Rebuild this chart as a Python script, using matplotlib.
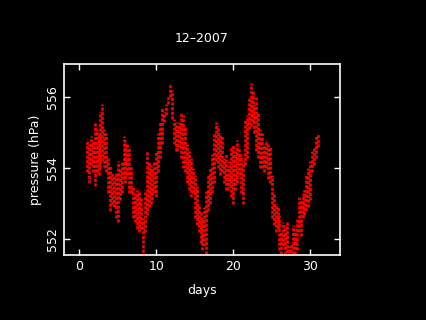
import numpy as np
import matplotlib
matplotlib.use('Agg')
import matplotlib.pyplot as plt

# time (day of month) and the pressure spread seen in each quarter day
days = np.arange(1.0, 31.01, 0.25)
p_hi = [554.8, 554.7, 554.9, 554.8, 555.3, 555.1, 555.0, 555.6, 555.8, 555.1,
        555.0, 554.3, 554.1, 553.9, 553.8, 553.9, 554.2, 554.0, 554.2, 554.9,
        554.8, 554.7, 554.6, 554.1, 553.5, 553.3, 553.4, 553.4, 553.2, 552.6,
        553.4, 554.5, 554.2, 554.1, 554.0, 554.2, 554.5, 555.0, 555.3, 555.7,
        555.6, 555.8, 556.0, 556.4, 556.2, 555.4, 555.3, 555.2, 555.3, 555.6,
        555.5, 555.2, 554.7, 554.5, 554.3, 554.0, 553.8, 553.5, 553.0, 552.8,
        552.6, 552.9, 553.4, 553.8, 554.0, 554.4, 555.0, 555.3, 555.2, 555.0,
        554.9, 554.3, 554.4, 554.0, 554.2, 554.6, 554.7, 554.5, 554.8, 554.6,
        554.4, 554.2, 555.4, 555.5, 556.0, 556.4, 556.2, 555.8, 556.0, 555.6,
        555.1, 555.0, 554.7, 554.8, 554.7, 554.6, 553.8, 553.3, 553.0, 552.9,
        552.7, 552.2, 552.5, 552.4, 552.5, 551.8, 551.9, 552.4, 552.3, 552.6,
        553.2, 553.1, 553.3, 553.4, 553.8, 554.0, 554.2, 554.5, 554.6, 554.9,
        555.0]
p_lo = [553.9, 553.6, 554.1, 553.9, 553.5, 553.9, 553.8, 554.0, 554.2, 554.0,
        553.9, 553.3, 552.8, 553.0, 552.9, 552.6, 552.5, 553.1, 553.3, 553.7,
        553.6, 553.8, 553.3, 553.3, 552.6, 552.5, 552.3, 552.2, 552.3, 551.5,
        552.2, 552.7, 552.9, 553.0, 553.1, 553.3, 553.2, 553.9, 554.3, 554.7,
        555.3, 555.5, 555.8, 556.0, 555.4, 554.7, 554.5, 554.5, 554.6, 554.3,
        554.0, 553.9, 553.6, 553.4, 553.2, 553.3, 552.6, 552.4, 552.2, 551.9,
        551.7, 551.8, 551.6, 552.8, 553.0, 553.3, 553.6, 554.2, 554.0, 553.8,
        553.9, 553.6, 553.4, 553.4, 553.5, 553.2, 553.0, 553.4, 553.6, 553.8,
        553.3, 553.0, 554.1, 554.3, 555.1, 555.2, 555.3, 555.0, 554.5, 554.3,
        554.0, 554.0, 553.9, 554.0, 553.7, 553.6, 552.6, 552.4, 552.2, 552.3,
        551.7, 551.6, 551.8, 551.6, 551.5, 551.5, 551.5, 551.6, 551.6, 551.7,
        552.2, 552.1, 552.6, 552.7, 552.8, 552.9, 553.1, 553.9, 554.1, 554.3,
        554.6]

plt.rcParams['font.family'] = 'DejaVu Sans'
fig = plt.figure(figsize=(4.26, 3.2), dpi=100, facecolor='black')
ax = fig.add_axes([0.1502, 0.2031, 0.6479, 0.5969], facecolor='black')

ax.vlines(days, p_lo, p_hi, colors='red', linewidth=1.9, linestyles=(0, (1.2, 0.55)))

ax.set_xlim(-1.99, 33.86)
ax.set_ylim(551.56, 556.94)
ax.set_xticks([0, 10, 20, 30])
ax.set_yticks([552, 554, 556])

for s in ax.spines.values():
    s.set_color('white')
    s.set_linewidth(1.2)
ax.tick_params(colors='white', direction='in', length=4, width=1, labelsize=9,
               top=True, right=True)
for lab in ax.get_yticklabels():
    lab.set_rotation(90)
    lab.set_va('center')

ax.set_title('12\u20132007', color='white', fontsize=9, pad=16)
ax.set_xlabel('days', color='white', fontsize=9, labelpad=8)
ax.set_ylabel('pressure (hPa)', color='white', fontsize=9, labelpad=3)

fig.savefig('out.png', dpi=100, facecolor='black')
